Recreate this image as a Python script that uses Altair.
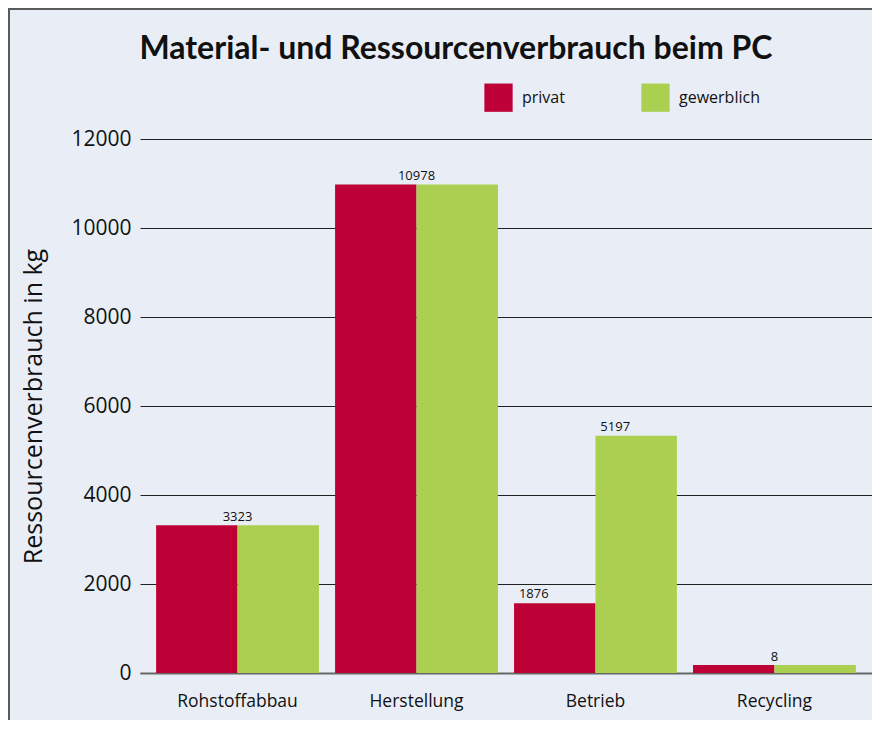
import altair as alt
import pandas as pd

categories = ["Rohstoffabbau", "Herstellung", "Betrieb", "Recycling"]
series = ["privat", "gewerblich"]
privat = [3323, 10978, 1570, 180]
gewerblich = [3323, 10978, 5330, 180]

# value labels as printed in the chart
center_label_cats = ["Rohstoffabbau", "Herstellung", "Recycling"]
center_label_text = ["3323", "10978", "8"]
center_label_val = [3323, 10978, 180]
bar_label_cats = ["Betrieb", "Betrieb"]
bar_label_series = ["privat", "gewerblich"]
bar_label_text = ["1876", "5197"]
bar_label_val = [1570, 5330]

y_ticks = [0, 2000, 4000, 6000, 8000, 10000, 12000]
title_text = "Material- und Ressourcenverbrauch beim PC"

rows = []
for i, c in enumerate(categories):
    rows.append({"cat": c, "series": "privat", "value": privat[i]})
    rows.append({"cat": c, "series": "gewerblich", "value": gewerblich[i]})
df = pd.DataFrame(rows)

df_center = pd.DataFrame({"cat": center_label_cats, "text": center_label_text, "value": center_label_val})
df_bar = pd.DataFrame({"cat": bar_label_cats, "series": bar_label_series, "text": bar_label_text, "value": bar_label_val})
df_title = pd.DataFrame({"t": [title_text]})

FONT = "Open Sans"
RED = "#bd0035"
GREEN = "#abcf50"
BG = "#e9eef6"

x_enc = alt.X("cat:N", sort=categories, title=None,
              scale=alt.Scale(paddingInner=0.09, paddingOuter=0.09),
              axis=alt.Axis(labelAngle=0, labelFontSize=17.5, labelFont=FONT, labelColor="#111",
                            labelPadding=19, ticks=False, domainColor="#666", domainWidth=2,
                            grid=False))
y_scale = alt.Scale(domain=[0, 12000], nice=False)

bars = alt.Chart(df).mark_bar().encode(
    x=x_enc,
    xOffset=alt.XOffset("series:N", sort=series, scale=alt.Scale(paddingInner=0, paddingOuter=0)),
    y=alt.Y("value:Q", scale=y_scale, title="Ressourcenverbrauch in kg",
            axis=alt.Axis(values=y_ticks, format="d", labelFontSize=21, labelFont=FONT, labelColor="#111",
                          labelPadding=9, ticks=False, domain=False, grid=True,
                          gridColor="#222", gridWidth=1,
                          titleFontSize=25, titleFont=FONT, titleFontWeight="normal",
                          titleColor="#111", titleAngle=-90, titleAlign="center",
                          titleBaseline="middle", titleX=-107, titleY=267)),
    color=alt.Color("series:N", sort=series,
                    scale=alt.Scale(domain=series, range=[RED, GREEN]),
                    legend=alt.Legend(title=None, orient="none", legendX=344, legendY=-56,
                                      direction="horizontal", symbolType="square",
                                      symbolSize=800, symbolStrokeWidth=0, labelFontSize=16,
                                      labelFont=FONT, labelColor="#111", labelOffset=9,
                                      columnPadding=76)),
)

center_text = alt.Chart(df_center).mark_text(baseline="bottom", dy=-1, fontSize=13, font=FONT, color="#111").encode(
    x=alt.X("cat:N", sort=categories),
    y=alt.Y("value:Q", scale=y_scale),
    text="text:N",
)

bar_text = alt.Chart(df_bar).mark_text(baseline="bottom", dy=-2, dx=-21, fontSize=13, font=FONT, color="#111").encode(
    x=alt.X("cat:N", sort=categories),
    xOffset=alt.XOffset("series:N", sort=series),
    y=alt.Y("value:Q", scale=y_scale),
    text="text:N",
)

title_mark = alt.Chart(df_title).mark_text(
    font="Lato", fontSize=32, fontWeight="bold", color="#111",
    align="center", baseline="alphabetic").encode(
    x=alt.value(316), y=alt.value(-80), text="t:N")

frame_top = alt.Chart(df).mark_rule(color="#5a5a5a", strokeWidth=2).encode(
    x=alt.value(-133), x2=alt.value(760), y=alt.value(-130))
frame_left = alt.Chart(df).mark_rule(color="#5a5a5a", strokeWidth=2).encode(
    x=alt.value(-131), y=alt.value(-131), y2=alt.value(600))

chart = alt.layer(bars, center_text, bar_text, title_mark, frame_top, frame_left).properties(
    width=732, height=534,
    autosize=alt.AutoSizeParams(type="none"),
    padding={"left": 132, "top": 131, "right": 0, "bottom": 47},
).configure(background=BG).configure_view(stroke=None)

chart.save("out.html", embed_options={"renderer": "svg", "actions": False})
